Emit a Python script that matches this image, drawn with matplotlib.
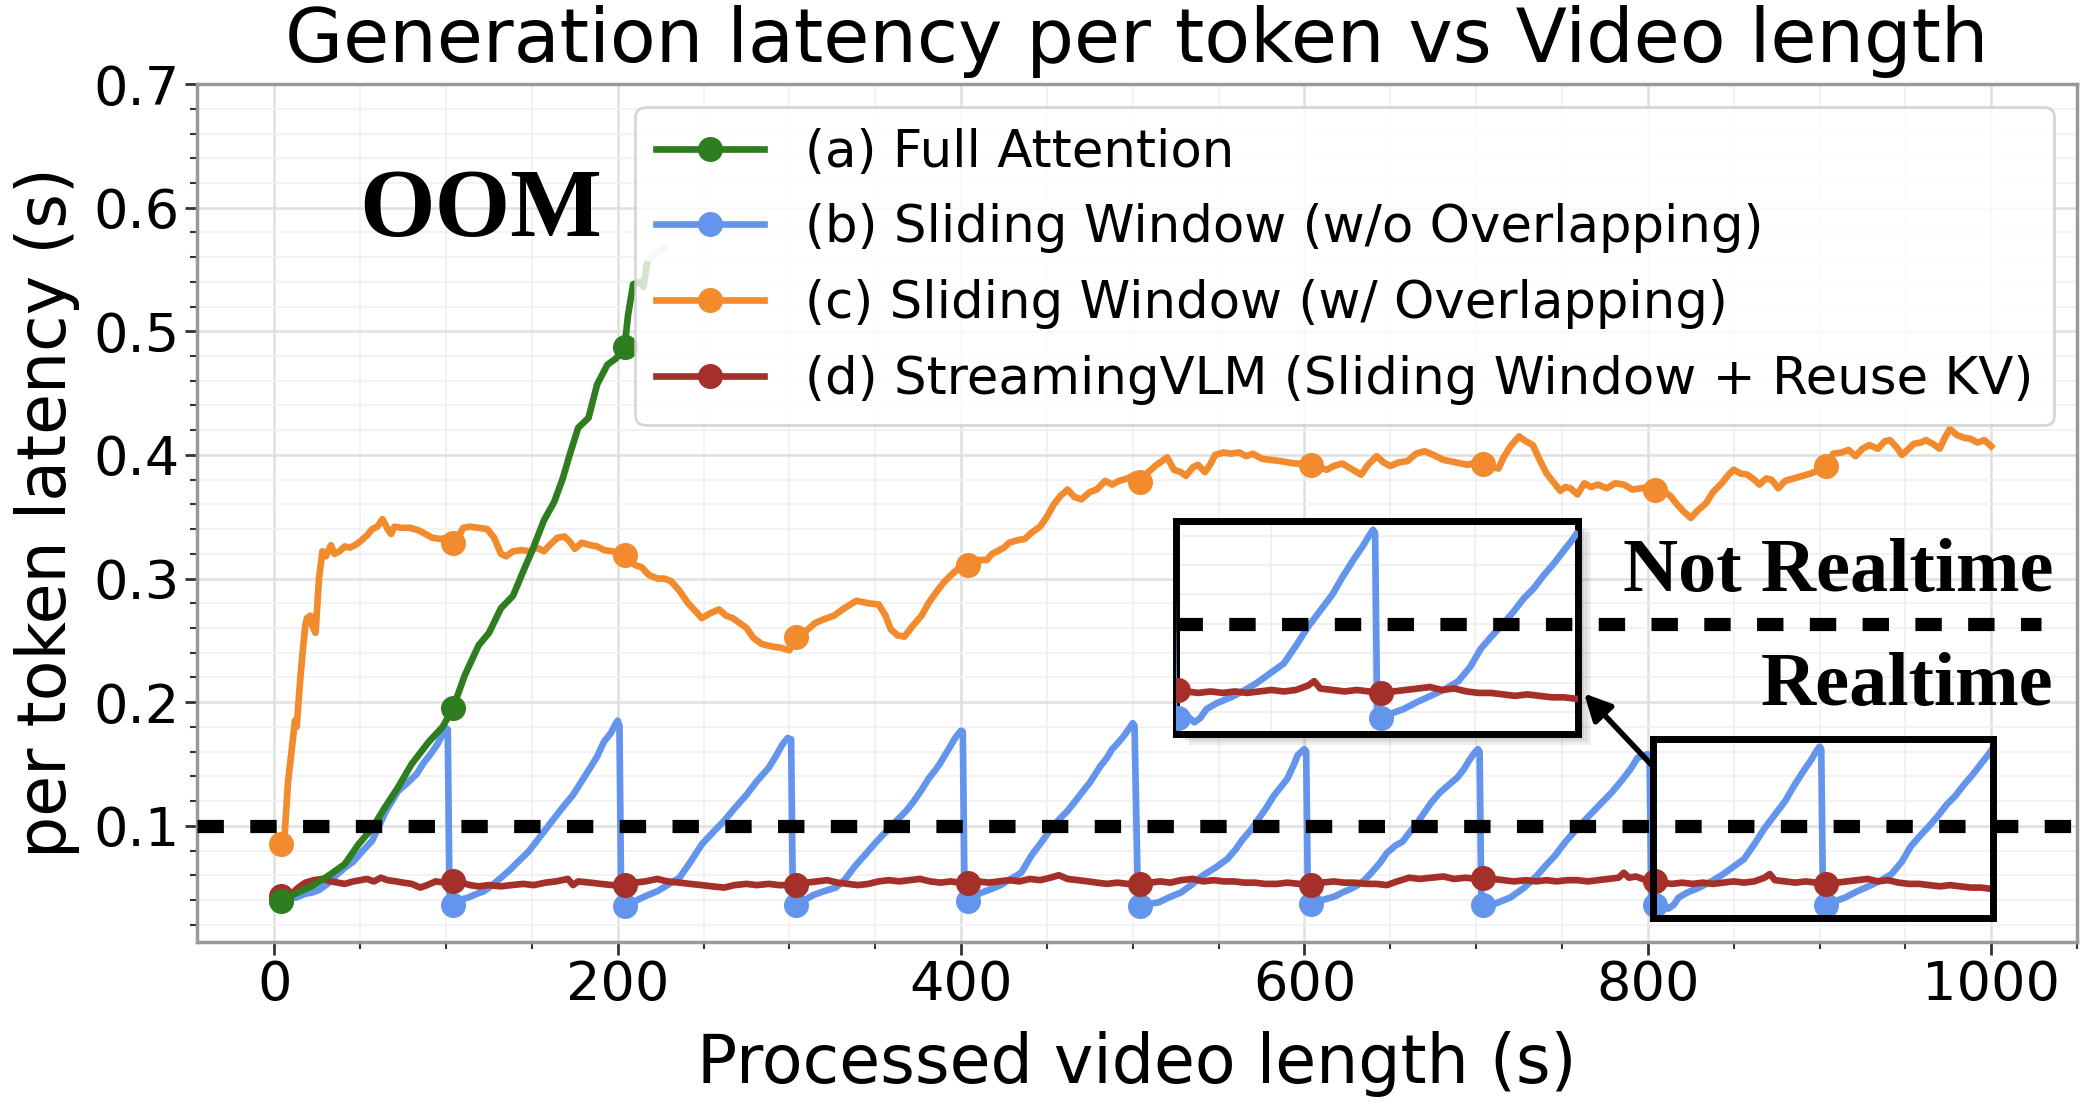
import numpy as np
import matplotlib
matplotlib.use("Agg")
import matplotlib.pyplot as plt
from matplotlib.ticker import MultipleLocator
from matplotlib.patches import Rectangle

# ---------------- data ----------------
labels = ["(a) Full Attention",
          "(b) Sliding Window (w/o Overlapping)",
          "(c) Sliding Window (w/ Overlapping)",
          "(d) StreamingVLM (Sliding Window + Reuse KV)"]
marker_x = [4, 104, 204, 304, 404, 504, 604, 704, 804, 904]

full_x = [4, 12, 23, 33, 41, 49, 57, 64, 72, 80, 90, 98, 104, 111, 119, 125, 132,
          139, 145, 150, 157, 163, 168, 172, 177, 183, 188, 194, 199, 204, 206,
          209, 213, 215, 217]
full_y = [0.039, 0.045, 0.052, 0.061, 0.069, 0.085, 0.098, 0.114, 0.131, 0.150,
          0.168, 0.180, 0.195, 0.222, 0.246, 0.256, 0.276, 0.286, 0.306, 0.322,
          0.347, 0.362, 0.381, 0.400, 0.422, 0.430, 0.457, 0.473, 0.478, 0.487,
          0.513, 0.538, 0.540, 0.536, 0.554]
# last part before OOM (drawn faded)
oom_x = [217, 221, 227]
oom_y = [0.554, 0.562, 0.567]

sw_x = [4, 8, 13, 18, 22, 26, 31, 36, 41, 46, 51, 57, 61, 65, 69, 72, 77, 83, 87, 91, 95, 98, 100, 101, 102,
        104, 108, 113, 118, 122, 127, 132, 137, 142, 148, 153, 158, 163, 168, 174, 179, 184, 188, 192, 196, 199, 200, 201, 202,
        204, 210, 216, 223, 229, 236, 242, 249, 255, 262, 268, 275, 281, 288, 292, 296, 299, 301, 302,
        304, 309, 314, 320, 327, 332, 338, 345, 350, 354, 359, 363, 368, 372, 377, 381, 385, 388, 391, 394, 397, 400, 401, 402,
        404, 408, 412, 418, 423, 429, 435, 441, 448, 452, 457, 462, 466, 471, 475, 481, 485, 488, 492, 495, 498, 500, 501, 503,
        504, 510, 515, 521, 528, 534, 541, 548, 555, 560, 564, 569, 573, 578, 582, 586, 590, 594, 596, 599, 600, 601, 602,
        604, 608, 613, 618, 622, 627, 631, 635, 639, 644, 648, 653, 657, 662, 666, 670, 674, 679, 684, 689, 693, 696, 699, 701, 702, 703,
        704, 711, 720, 728, 735, 740, 746, 752, 759, 765, 772, 779, 785, 790, 794, 798, 800, 801, 802,
        804, 808, 812, 815, 818, 823, 830, 837, 843, 849, 856, 862, 868, 874, 880, 885, 891, 895, 898, 900, 901, 902,
        904, 909, 915, 922, 930, 936, 942, 948, 953, 958, 964, 969, 974, 979, 984, 989, 994, 998, 1000]
sw_y = [0.040, 0.041, 0.042, 0.045, 0.046, 0.048, 0.053, 0.060, 0.066, 0.071, 0.079, 0.088, 0.100, 0.112, 0.121, 0.128, 0.134, 0.142, 0.151, 0.158, 0.166, 0.174, 0.179, 0.178, 0.045,
        0.036, 0.040, 0.042, 0.045, 0.047, 0.052, 0.058, 0.064, 0.071, 0.079, 0.088, 0.097, 0.106, 0.115, 0.125, 0.136, 0.147, 0.156, 0.168, 0.175, 0.183, 0.185, 0.181, 0.042,
        0.035, 0.039, 0.043, 0.047, 0.052, 0.058, 0.070, 0.085, 0.094, 0.104, 0.114, 0.125, 0.136, 0.147, 0.156, 0.166, 0.171, 0.170, 0.042,
        0.036, 0.040, 0.044, 0.047, 0.050, 0.056, 0.067, 0.078, 0.086, 0.092, 0.099, 0.105, 0.112, 0.119, 0.129, 0.138, 0.145, 0.151, 0.158, 0.165, 0.172, 0.177, 0.176, 0.045,
        0.039, 0.043, 0.046, 0.049, 0.052, 0.057, 0.062, 0.076, 0.089, 0.097, 0.105, 0.112, 0.119, 0.128, 0.135, 0.148, 0.155, 0.162, 0.168, 0.173, 0.179, 0.183, 0.181, 0.042,
        0.035, 0.037, 0.038, 0.042, 0.046, 0.052, 0.060, 0.066, 0.073, 0.081, 0.089, 0.097, 0.105, 0.115, 0.124, 0.131, 0.138, 0.150, 0.157, 0.161, 0.162, 0.160, 0.042,
        0.037, 0.039, 0.041, 0.043, 0.046, 0.049, 0.052, 0.056, 0.062, 0.070, 0.078, 0.084, 0.087, 0.096, 0.103, 0.111, 0.119, 0.127, 0.133, 0.139, 0.146, 0.153, 0.159, 0.162, 0.160, 0.042,
        0.036, 0.037, 0.042, 0.050, 0.059, 0.067, 0.076, 0.087, 0.098, 0.107, 0.117, 0.127, 0.137, 0.146, 0.155, 0.157, 0.158, 0.157, 0.042,
        0.036, 0.038, 0.033, 0.036, 0.042, 0.046, 0.050, 0.055, 0.060, 0.066, 0.073, 0.085, 0.098, 0.109, 0.120, 0.132, 0.145, 0.153, 0.160, 0.164, 0.162, 0.042,
        0.036, 0.039, 0.042, 0.047, 0.052, 0.056, 0.061, 0.071, 0.083, 0.091, 0.100, 0.108, 0.117, 0.124, 0.133, 0.141, 0.150, 0.157, 0.161]

ov_x = [4, 6, 8, 10, 12, 13, 15, 16, 18, 19, 21, 22, 24, 26, 28, 30, 33, 35, 38, 41, 44, 47, 50, 54, 57, 60, 63, 66, 68, 70,
        74, 79, 84, 88, 92, 97, 100, 104, 107, 110, 114, 119, 124, 128, 132, 135, 139, 144, 149, 153, 157, 161, 165, 169, 172,
        175, 179, 184, 188, 192, 197, 204, 210, 214, 218, 223, 227, 231, 236, 241, 245, 249, 254, 259, 263, 267, 271, 275, 279,
        284, 290, 295, 300, 304, 310, 315, 320, 326, 332, 339, 346, 352, 356, 359, 363, 367, 372, 377, 381, 385, 390, 395, 400,
        404, 410, 415, 418, 421, 425, 428, 433, 437, 441, 446, 450, 454, 458, 462, 466, 470, 475, 479, 484, 488, 492, 497, 501,
        504, 509, 513, 517, 520, 524, 528, 531, 535, 538, 542, 545, 548, 553, 557, 562, 566, 570, 575, 580, 586, 590, 595, 600,
        604, 608, 613, 617, 622, 627, 633, 637, 642, 646, 650, 655, 660, 665, 670, 675, 681, 688, 695, 700, 704, 710, 713, 716,
        720, 725, 729, 733, 737, 741, 745, 749, 752, 755, 759, 763, 767, 771, 776, 781, 786, 791, 796, 800, 804, 809, 813, 817,
        821, 825, 829, 834, 838, 843, 847, 850, 854, 858, 862, 865, 869, 872, 876, 880, 885, 890, 895, 900, 904, 908, 913, 917,
        921, 925, 929, 934, 938, 941, 945, 948, 952, 955, 959, 962, 966, 970, 973, 976, 980, 984, 988, 992, 996, 1000]
ov_y = [0.085, 0.093, 0.136, 0.160, 0.185, 0.180, 0.217, 0.233, 0.262, 0.268, 0.270, 0.262, 0.256, 0.300, 0.322, 0.318, 0.327, 0.320, 0.322, 0.326, 0.325, 0.327, 0.330, 0.335, 0.340, 0.342, 0.348, 0.340, 0.336, 0.342,
        0.341, 0.341, 0.339, 0.336, 0.333, 0.332, 0.333, 0.329, 0.333, 0.341, 0.342, 0.341, 0.340, 0.333, 0.320, 0.318, 0.322, 0.323, 0.322, 0.325, 0.322, 0.328, 0.333, 0.334, 0.330,
        0.324, 0.329, 0.327, 0.326, 0.323, 0.322, 0.319, 0.311, 0.309, 0.303, 0.300, 0.300, 0.298, 0.290, 0.280, 0.274, 0.268, 0.272, 0.275, 0.270, 0.268, 0.264, 0.260, 0.252,
        0.247, 0.245, 0.244, 0.242, 0.253, 0.258, 0.264, 0.267, 0.270, 0.276, 0.282, 0.280, 0.279, 0.270, 0.259, 0.254, 0.253, 0.262, 0.270, 0.280, 0.288, 0.297, 0.304, 0.310,
        0.311, 0.315, 0.315, 0.320, 0.322, 0.325, 0.329, 0.331, 0.332, 0.337, 0.342, 0.350, 0.360, 0.367, 0.372, 0.366, 0.364, 0.370, 0.372, 0.379, 0.376, 0.379, 0.381, 0.384,
        0.378, 0.386, 0.391, 0.395, 0.398, 0.388, 0.386, 0.383, 0.390, 0.392, 0.386, 0.392, 0.400, 0.402, 0.401, 0.402, 0.399, 0.401, 0.397, 0.396, 0.395, 0.394, 0.393, 0.393,
        0.392, 0.390, 0.388, 0.391, 0.393, 0.389, 0.384, 0.392, 0.399, 0.394, 0.391, 0.394, 0.395, 0.401, 0.403, 0.400, 0.396, 0.394, 0.392, 0.394, 0.393, 0.390, 0.389, 0.398,
        0.407, 0.415, 0.411, 0.408, 0.396, 0.385, 0.378, 0.371, 0.374, 0.373, 0.368, 0.377, 0.374, 0.376, 0.373, 0.377, 0.376, 0.372, 0.373, 0.374, 0.372, 0.371, 0.367, 0.360,
        0.354, 0.349, 0.355, 0.361, 0.370, 0.377, 0.384, 0.388, 0.385, 0.384, 0.380, 0.376, 0.381, 0.380, 0.373, 0.379, 0.381, 0.383, 0.385, 0.388, 0.391, 0.401, 0.402, 0.404,
        0.399, 0.405, 0.408, 0.405, 0.411, 0.412, 0.406, 0.400, 0.405, 0.409, 0.410, 0.412, 0.409, 0.405, 0.414, 0.421, 0.416, 0.414, 0.413, 0.410, 0.412, 0.407]

svlm_x = [4, 7, 10, 14, 18, 23, 28, 33, 37, 41, 46, 50, 54, 58, 62, 66, 71, 75, 80, 85, 89, 94, 99,
          104, 109, 114, 119, 125, 132, 138, 145, 151, 158, 164, 171, 174, 177, 184, 190, 197,
          204, 210, 216, 223, 229, 236, 242, 249, 255, 262, 268, 275, 281, 288, 294, 300,
          304, 310, 316, 322, 328, 334, 340, 346, 352, 358, 364, 370, 376, 382, 388, 394, 399,
          404, 410, 416, 422, 428, 434, 440, 446, 452, 457, 462, 468, 474, 479, 485, 491, 497,
          504, 510, 516, 522, 528, 535, 541, 547, 553, 559, 565, 571, 577, 584, 590, 597,
          604, 610, 617, 623, 629, 636, 642, 648, 654, 661, 667, 674, 681, 687, 694, 700,
          704, 710, 716, 722, 729, 735, 741, 747, 753, 759, 765, 771, 777, 783, 786, 789, 793, 797,
          804, 808, 814, 820, 826, 832, 838, 844, 850, 856, 862, 868, 871, 874, 880, 886, 892, 898,
          904, 910, 916, 922, 928, 934, 940, 946, 952, 958, 964, 970, 976, 982, 988, 994, 1000]
svlm_y = [0.043, 0.044, 0.045, 0.050, 0.054, 0.056, 0.057, 0.055, 0.054, 0.053, 0.055, 0.056, 0.057, 0.055, 0.058, 0.056, 0.055, 0.054, 0.053, 0.050, 0.052, 0.055, 0.054,
          0.055, 0.054, 0.052, 0.051, 0.052, 0.051, 0.052, 0.053, 0.052, 0.054, 0.055, 0.057, 0.052, 0.055, 0.054, 0.053, 0.052,
          0.052, 0.054, 0.055, 0.057, 0.055, 0.054, 0.053, 0.052, 0.051, 0.050, 0.052, 0.053, 0.052, 0.053, 0.052, 0.052,
          0.052, 0.054, 0.055, 0.056, 0.054, 0.053, 0.052, 0.053, 0.055, 0.056, 0.055, 0.056, 0.057, 0.055, 0.054, 0.055, 0.054,
          0.054, 0.055, 0.054, 0.055, 0.056, 0.055, 0.057, 0.056, 0.058, 0.060, 0.057, 0.056, 0.055, 0.054, 0.053, 0.054, 0.053,
          0.053, 0.054, 0.055, 0.054, 0.056, 0.057, 0.055, 0.056, 0.055, 0.055, 0.054, 0.054, 0.053, 0.053, 0.054, 0.053,
          0.052, 0.054, 0.055, 0.054, 0.054, 0.053, 0.053, 0.052, 0.055, 0.058, 0.057, 0.058, 0.059, 0.057, 0.058, 0.057,
          0.058, 0.057, 0.056, 0.055, 0.056, 0.055, 0.056, 0.055, 0.056, 0.056, 0.055, 0.056, 0.057, 0.058, 0.062, 0.058, 0.059, 0.057,
          0.055, 0.054, 0.053, 0.054, 0.053, 0.054, 0.053, 0.054, 0.055, 0.054, 0.055, 0.058, 0.061, 0.056, 0.055, 0.054, 0.055, 0.054,
          0.053, 0.054, 0.055, 0.056, 0.057, 0.055, 0.056, 0.054, 0.053, 0.053, 0.052, 0.051, 0.052, 0.051, 0.050, 0.050, 0.049]

xs = [full_x, sw_x, ov_x, svlm_x]
ys = [full_y, sw_y, ov_y, svlm_y]
colors = ["#2E7D1E", "#6495ED", "#F28A2E", "#A5302A"]
zorders = [6, 3, 4, 5]

realtime_thr = 0.1
zoom_x = (803, 1001)
zoom_y = (0.025, 0.17)

# ---------------- figure ----------------
plt.rcParams["font.family"] = ["DejaVu Sans"]
fig = plt.figure(figsize=(20.9, 11.06), dpi=100)
ax = fig.add_axes([0.0943, 0.1483, 0.8995, 0.7757])

def marks(x):
    return [i for i, v in enumerate(x) if v in marker_x]

LW = 4.8
MS = 17
for x, y, c, lab, z in zip(xs, ys, colors, labels, zorders):
    ax.plot(x, y, color=c, lw=LW, marker="o", ms=MS, markevery=marks(x),
            label=lab, zorder=z)
ax.plot(oom_x, oom_y, color=colors[0], lw=LW, alpha=0.2, zorder=6)

ax.axhline(realtime_thr, color="black", lw=9.5, ls=(0, (2, 2)), zorder=7)

ax.set_xlim(-45, 1050)
ax.set_ylim(0.006, 0.7)
ax.xaxis.set_major_locator(MultipleLocator(200))
ax.xaxis.set_minor_locator(MultipleLocator(50))
ax.yaxis.set_major_locator(MultipleLocator(0.1))
ax.yaxis.set_minor_locator(MultipleLocator(0.02))
ax.grid(which="major", color="#e0e0e0", lw=1.8)
ax.grid(which="minor", color="#f0f0f0", lw=1.2)
ax.set_axisbelow(True)
ax.tick_params(which="major", length=9, width=2, labelsize=39, color="#333333")
ax.tick_params(which="minor", length=5, width=1.5, color="#333333")
for s in ax.spines.values():
    s.set_color("#999999")
    s.set_linewidth(2.5)

ax.set_title("Generation latency per token vs Video length", fontsize=54, pad=16)
ax.set_xlabel("Processed video length (s)", fontsize=48, labelpad=14)
ax.set_ylabel("per token latency (s)", fontsize=48, labelpad=10)

leg = ax.legend(loc="upper right", fontsize=37, framealpha=0.8,
                edgecolor="#cccccc", borderaxespad=0.45, handlelength=2.1)
leg.get_frame().set_linewidth(2)
leg.set_zorder(8)

fig.text(0.172, 0.787, "OOM", fontsize=70, fontweight="bold",
         family="Liberation Serif", ha="left", va="baseline")

# zoom box in the main axes
ax.add_patch(Rectangle((zoom_x[0], zoom_y[0]), zoom_x[1] - zoom_x[0],
                       zoom_y[1] - zoom_y[0], fill=False, ec="black", lw=5, zorder=9))

# inset
ins_rect = [0.5627, 0.3363, 0.1924, 0.1926]
for k, a in enumerate([0.05, 0.05, 0.06, 0.07]):
    off = 0.0025 * (k + 1)
    fig.patches.append(Rectangle((ins_rect[0] + off * 0.6, ins_rect[1] - off),
                                 ins_rect[2], ins_rect[3], transform=fig.transFigure,
                                 fc="black", alpha=a, ec="none", zorder=9))
axin = fig.add_axes(ins_rect, zorder=10)
for x, y, c, z in zip(xs[1:], ys[1:], colors[1:], zorders[1:]):
    axin.plot(x, y, color=c, lw=LW, marker="o", ms=MS, markevery=marks(x), zorder=z)
axin.set_xlim(*zoom_x)
axin.set_ylim(*zoom_y)
axin.xaxis.set_major_locator(MultipleLocator(50))
axin.yaxis.set_major_locator(MultipleLocator(0.02))
axin.grid(color="#eeeeee", lw=1.2)
axin.set_axisbelow(True)
axin.tick_params(length=0, labelbottom=False, labelleft=False)
for s in axin.spines.values():
    s.set_color("black")
    s.set_linewidth(5)
axin.axhline(realtime_thr, xmin=0, xmax=2.15, color="black", lw=9.5,
             ls=(0, (2, 2)), clip_on=False, zorder=11)

ax.annotate("", xy=(1.01, 0.2), xycoords=axin.transAxes,
            xytext=(zoom_x[0], 0.148), textcoords="data",
            arrowprops=dict(arrowstyle="-|>", lw=4, color="black", mutation_scale=40),
            zorder=12)

fig.text(0.9823, 0.4656, "Not Realtime", fontsize=55, fontweight="bold",
         family="Liberation Serif", ha="right", va="baseline")
fig.text(0.9823, 0.3626, "Realtime", fontsize=55, fontweight="bold",
         family="Liberation Serif", ha="right", va="baseline")

fig.savefig("out.png", dpi=100)
